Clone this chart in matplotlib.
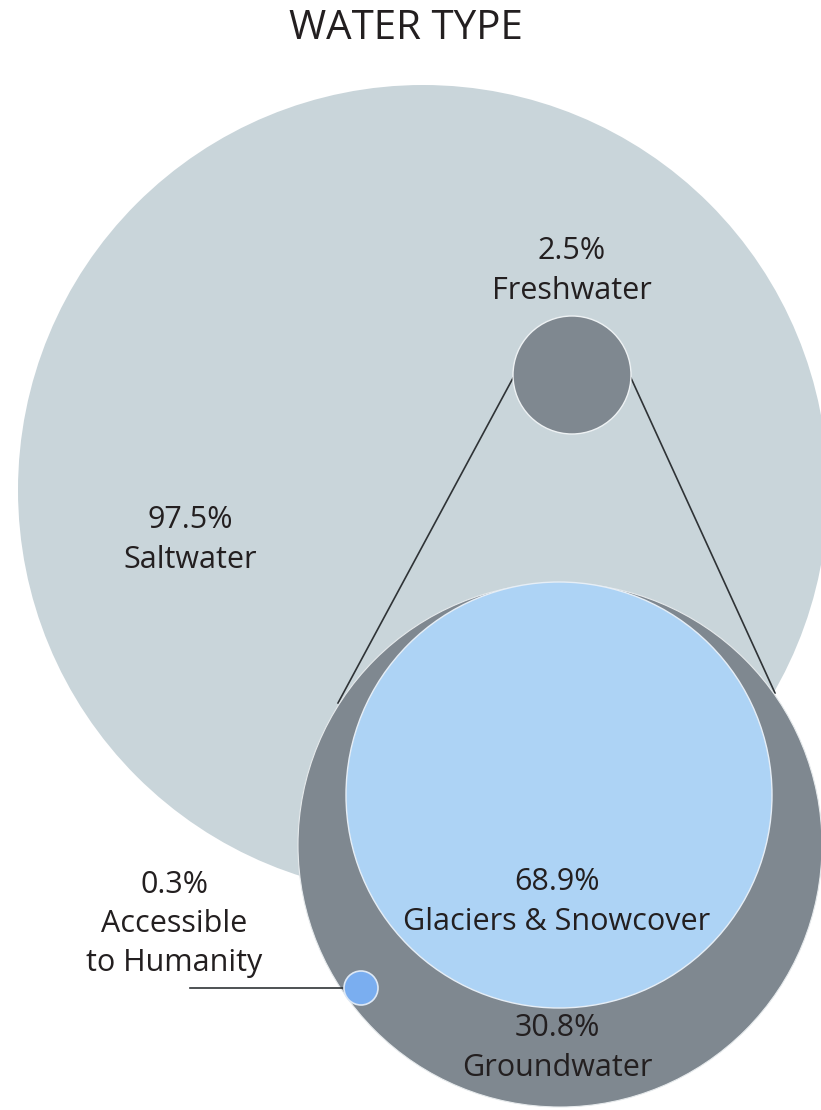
import matplotlib
matplotlib.use("Agg")
from matplotlib import pyplot as plt
from matplotlib.patches import Circle

plt.rcParams["font.family"] = ["Open Sans", "DejaVu Sans"]

# data
categories = ["Saltwater", "Freshwater", "Groundwater", "Glaciers & Snowcover",
              "Accessible\nto Humanity"]
shares = [97.5, 2.5, 30.8, 68.9, 0.3]
title = "WATER TYPE"

# layout (pixel space, y down)
centers = [(423, 490), (572, 375), (560, 845), (559, 795), (361, 988)]
radii = [405, 59, 262, 213, 17]
colors = ["#C9D5DA", "#7F8890", "#7F8890", "#ADD3F5", "#7AAEF0"]
label_pos = [(190, 520), (572, 251), (557, 1028), (557, 882), (174, 885)]

fig = plt.figure(figsize=(8.21, 11.1), dpi=100)
ax = fig.add_axes([0, 0, 1, 1])
ax.set_xlim(0, 821)
ax.set_ylim(1110, 0)
ax.set_aspect("equal")
ax.axis("off")

# big saltwater circle
ax.add_patch(Circle(centers[0], radii[0], facecolor=colors[0], edgecolor="none", zorder=1))

# connector lines from freshwater circle down to the freshwater breakdown
ax.plot([513, 338], [378, 703], color="#2f3336", lw=1.2, zorder=2)
ax.plot([631, 775], [378, 693], color="#2f3336", lw=1.2, zorder=2)

# freshwater circle
ax.add_patch(Circle(centers[1], radii[1], facecolor=colors[1], edgecolor="#eef2f4",
                    lw=1.0, zorder=3))

# groundwater (whole freshwater) and glaciers
ax.add_patch(Circle(centers[2], radii[2], facecolor=colors[2], edgecolor="#e6eaec",
                    lw=0.8, zorder=3))
ax.add_patch(Circle(centers[3], radii[3], facecolor=colors[3], edgecolor="#e6eef6",
                    lw=1.0, zorder=4))

# accessible water pointer + circle
ax.plot([190, 355], [988, 988], color="#2f3336", lw=1.2, zorder=5)
ax.add_patch(Circle(centers[4], radii[4], facecolor=colors[4], edgecolor="#dde8f5",
                    lw=1.2, zorder=6))

# title
ax.text(406, 29, title, ha="center", va="center", fontsize=29, color="#231f20")

# labels
txt_kw = dict(ha="center", va="center", fontsize=22, color="#231f20", zorder=10)
for i, (cat, val) in enumerate(zip(categories, shares)):
    x, y = label_pos[i]
    lines = [f"{val}%"] + cat.split("\n")
    for j, line in enumerate(lines):
        dy = 40 if i != 4 else 39
        ax.text(x, y + j * dy, line, **txt_kw)

fig.savefig("out.png", dpi=100)
